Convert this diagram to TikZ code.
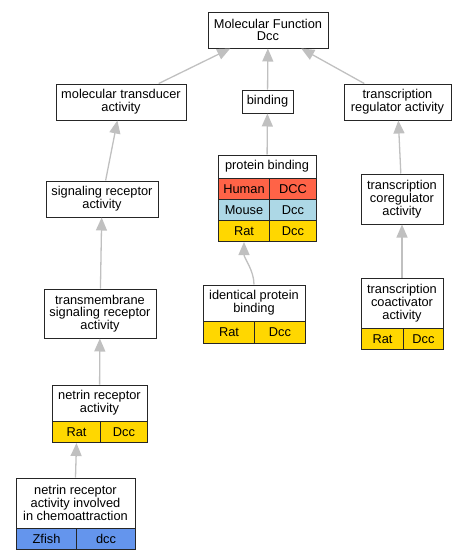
\documentclass[tikz,border=0pt]{standalone}
\usepackage{fontspec}
\setmainfont{Liberation Sans}
\usetikzlibrary{arrows.meta,positioning}
\definecolor{human}{RGB}{255,99,71}
\definecolor{mouse}{RGB}{173,216,230}
\definecolor{rat}{RGB}{255,215,0}
\definecolor{zfish}{RGB}{100,149,237}
\definecolor{linkgray}{RGB}{192,192,192}
\begin{document}
\begin{tikzpicture}[
    x=1pt, y=-1pt,
    font=\fontsize{12.8}{12.8}\selectfont,
    term/.style={rectangle, draw=black!85, line width=1pt, fill=white, align=center, inner sep=0pt},
    cell/.style={rectangle, draw=black!85, line width=1pt, anchor=north west, minimum height=21pt, inner sep=0pt},
    isa/.style={draw=linkgray, line width=1.3pt, -{Triangle[length=13pt,width=11pt]}}
]
\useasboundingbox (0,0) rectangle (467,560);
% Top term
\node[term, minimum width=120pt, minimum height=36pt] (mf) at (268,30) {Molecular Function\\Dcc};
% Second level
\node[term, minimum width=130pt, minimum height=36pt] (transducer) at (121,102) {molecular transducer\\activity};
\node[term, minimum width=51pt, minimum height=23pt] (binding) at (267.5,101.5) {binding};
\node[term, minimum width=107pt, minimum height=36pt] (regulator) at (397.5,102) {transcription\\regulator activity};
% Third level
\node[term, minimum width=112pt, minimum height=36pt] (sigrec) at (102,199) {signaling receptor\\activity};
\node[term, minimum width=98pt, minimum height=23pt] (protbind) at (267,166.5) {protein binding};
\node[cell, fill=human, minimum width=51pt] (pbhuman) at (218,178) {Human};
\node[cell, fill=human, minimum width=47pt] (pbhumang) at (269,178) {DCC};
\node[cell, fill=mouse, minimum width=51pt] (pbmouse) at (218,199) {Mouse};
\node[cell, fill=mouse, minimum width=47pt] (pbmouseg) at (269,199) {Dcc};
\node[cell, fill=rat, minimum width=51pt] (pbrat) at (218,220) {Rat};
\node[cell, fill=rat, minimum width=47pt] (pbratg) at (269,220) {Dcc};
\node[term, minimum width=82pt, minimum height=50pt] (coreg) at (402,199) {transcription\\coregulator\\activity};
% Fourth level
\node[term, minimum width=112pt, minimum height=49pt] (tmsig) at (100,313.5) {transmembrane\\signaling receptor\\activity};
\node[term, minimum width=102pt, minimum height=36pt] (identical) at (254,303) {identical protein\\binding};
\node[cell, fill=rat, minimum width=51pt, minimum height=22pt] (iprat) at (203,321) {Rat};
\node[cell, fill=rat, minimum width=51pt, minimum height=22pt] (ipratg) at (254,321) {Dcc};
\node[term, minimum width=82pt, minimum height=50pt] (coact) at (402,303) {transcription\\coactivator\\activity};
\node[cell, fill=rat, minimum width=42pt] (carat) at (361,328) {Rat};
\node[cell, fill=rat, minimum width=40pt] (caratg) at (403,328) {Dcc};
% Netrin terms
\node[term, minimum width=95pt, minimum height=36pt] (netrin) at (99.5,403) {netrin receptor\\activity};
\node[cell, fill=rat, minimum width=48pt] (netrat) at (52,421) {Rat};
\node[cell, fill=rat, minimum width=47pt] (netratg) at (100,421) {Dcc};
\node[term, minimum width=119pt, minimum height=50pt] (chemo) at (75.5,503) {netrin receptor\\activity involved\\in chemoattraction};
\node[cell, fill=zfish, minimum width=60pt] (chzfish) at (16,528) {Zfish};
\node[cell, fill=zfish, minimum width=59pt] (chzfishg) at (76,528) {dcc};
% Arrows
\draw[isa] (transducer) -- (mf);
\draw[isa] (binding) -- (mf);
\draw[isa] (regulator) -- (mf);
\draw[isa] (sigrec) -- (transducer);
\draw[isa] (protbind) -- (binding);
\draw[isa] (coreg) -- (regulator);
\draw[isa] (tmsig) -- (sigrec);
\draw[isa] (identical.north) .. controls +(0,-14) and +(0,16) .. (pbrat.south);
\draw[isa] (coact) -- (coreg);
\draw[isa] (netrin) -- (tmsig);
\draw[isa] (chemo.north) -- (netrat.south);
\end{tikzpicture}
\end{document}
